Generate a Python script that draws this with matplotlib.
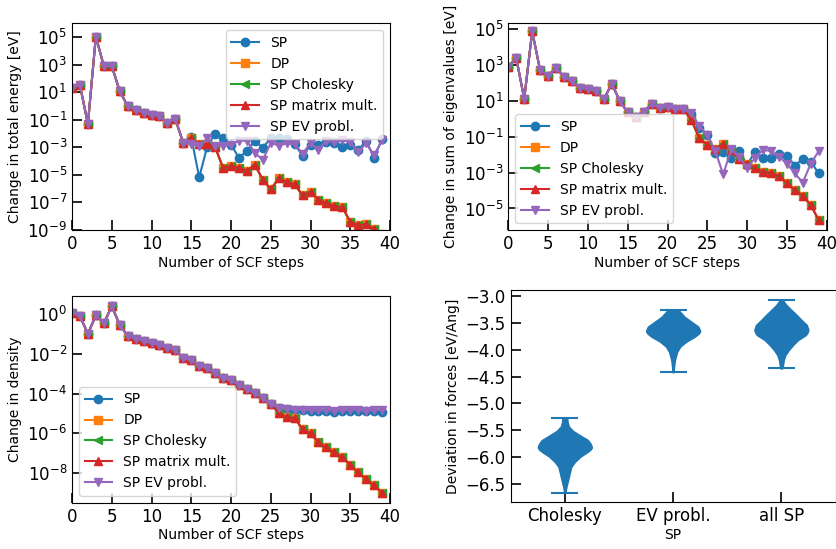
import matplotlib
matplotlib.use("Agg")
import matplotlib.pyplot as plt
from matplotlib.ticker import MultipleLocator, FixedLocator

# ---------------- data ----------------
steps = list(range(40))
series_labels = ["SP", "DP", "SP Cholesky", "SP matrix mult.", "SP EV probl."]
series_markers = ["o", "s", "<", "^", "v"]
series_colors = ["#1f77b4", "#ff7f0e", "#2ca02c", "#d62728", "#9467bd"]

# Change in total energy [eV]; steps 0-14 shared by all runs
energy_common = [21, 32, 0.05, 1.1e5, 800, 800, 12, 1.0, 0.5, 0.33, 0.24, 0.18,
                 0.06, 0.11, 0.002]
energy_dp_tail = [5.1e-3, 1.7e-3, 1.7e-3, 1.07e-3, 3.2e-5, 4.6e-5, 3.4e-5, 2.0e-5,
                  5.5e-5, 4.4e-6, 8.9e-7, 5.5e-6, 3.1e-6, 2.1e-6, 3.3e-7, 5.9e-7,
                  1.6e-7, 9.3e-8, 5.4e-8, 4.5e-8, 4.0e-9, 2.3e-9, 2.6e-9, 1.2e-9, 5e-10]
energy_sp_tail = [5.5e-3, 6.5e-6, 1.1e-3, 1.0e-2, 5.1e-3, 1.6e-3, 1.7e-4, 5.6e-4,
                  3.0e-3, 9.1e-4, 4.9e-3, 4.4e-3, 3.9e-3, 1.8e-3, 2.4e-4, 1.6e-3,
                  1.4e-3, 2.3e-3, 2.2e-3, 1.1e-3, 1.6e-3, 6.2e-4, 3.0e-3, 1.8e-4, 3.9e-3]
energy_ev_tail = [1.7e-3, 1.2e-3, 4.4e-3, 1.3e-3, 1.3e-3, 1.5e-3, 3.0e-3, 3.0e-3,
                  4.0e-4, 1.2e-4, 2.1e-3, 1.35e-3, 1.9e-3, 1.7e-3, 3.5e-4, 1.9e-3,
                  6.9e-4, 3.0e-3, 2.3e-3, 3.3e-3, 2.3e-3, 4.7e-4, 1.9e-3, 2.7e-4, 3.3e-3]
energy_yticks = [1e-9, 1e-7, 1e-5, 1e-3, 1e-1, 1e1, 1e3, 1e5]

# Change in sum of eigenvalues [eV]; steps 0-22 shared
eig_common = [810, 2400, 13, 7.4e4, 500, 250, 700, 210, 120, 55, 45, 37, 12, 90,
              10, 2.3, 1.3, 2.5, 6.7, 3.9, 4.8, 3.4, 3.5]
eig_dp_tail = [0.85, 0.081, 0.035, 0.022, 0.038, 0.018, 5.4e-3, 3.2e-3, 1.9e-3,
               1.1e-3, 1.0e-3, 6.6e-4, 2.5e-4, 1.05e-4, 5.0e-5, 1.55e-5, 2.2e-6]
eig_sp_tail = [1.8, 0.30, 0.126, 0.0117, 0.0132, 6.3e-3, 0.0158, 2.75e-3, 0.0145,
               6.5e-3, 6.8e-3, 0.0105, 8.9e-3, 2.45e-3, 5.8e-3, 4.1e-3, 8.9e-4]
eig_ev_tail = [2.0, 0.41, 0.126, 0.0158, 7.9e-4, 0.02, 7.6e-3, 1.9e-3, 6.5e-3,
               0.019, 0.0155, 7.6e-3, 3.2e-3, 8.9e-4, 2.8e-4, 3.2e-3, 0.0158]

# Change in density; steps 0-25 shared
dens_common = [1.2, 0.83, 0.105, 0.9, 0.35, 2.6, 0.3, 0.083, 0.059, 0.047, 0.035,
               0.028, 0.021, 0.0166, 6.3e-3, 5.2e-3, 2.6e-3, 2.0e-3, 1.05e-3, 6.0e-4,
               4.8e-4, 2.8e-4, 1.66e-4, 1.05e-4, 6.3e-5, 3.0e-5]
dens_dp_tail = [1.1e-5, 6.5e-6, 6.0e-6, 1.6e-6, 1.0e-6, 3.5e-7, 2.0e-7, 1.1e-7,
                6.3e-8, 2.6e-8, 1.07e-8, 5.0e-9, 2.4e-9, 1.0e-9]
dens_sp_tail = [2.0e-5, 1.7e-5, 1.5e-5, 1.45e-5, 1.4e-5, 1.3e-5, 1.35e-5, 1.25e-5,
                1.3e-5, 1.3e-5, 1.35e-5, 1.3e-5, 1.35e-5, 1.25e-5]
dens_ev_tail = [2.0e-5, 1.8e-5, 1.6e-5, 1.55e-5, 1.5e-5, 1.45e-5, 1.5e-5, 1.4e-5,
                1.45e-5, 1.6e-5, 1.55e-5, 1.35e-5, 1.5e-5, 1.55e-5]

# Violin profiles of force deviation [eV/Ang] (coordinate, relative density)
violin_labels = ["Cholesky", "EV probl.", "all SP"]
chol_coords = [-6.66, -6.55, -6.43, -6.30, -6.18, -6.09, -5.99, -5.90, -5.86, -5.82,
               -5.78, -5.74, -5.68, -5.59, -5.51, -5.43, -5.34, -5.27]
chol_density = [0.02, 0.06, 0.12, 0.18, 0.24, 0.37, 0.58, 0.85, 0.95, 1.0,
                0.98, 0.94, 0.85, 0.55, 0.30, 0.15, 0.10, 0.09]
ev_coords = [-4.42, -4.35, -4.22, -4.13, -4.04, -3.94, -3.85, -3.76, -3.70, -3.66,
             -3.62, -3.57, -3.48, -3.39, -3.29, -3.26]
ev_density = [0.02, 0.03, 0.06, 0.10, 0.15, 0.27, 0.49, 0.80, 0.95, 1.0,
              0.98, 0.93, 0.68, 0.43, 0.25, 0.18]
all_coords = [-4.35, -4.29, -4.19, -4.10, -4.01, -3.91, -3.82, -3.73, -3.68, -3.63,
              -3.54, -3.45, -3.35, -3.26, -3.17, -3.11, -3.07]
all_density = [0.03, 0.06, 0.09, 0.15, 0.27, 0.44, 0.62, 0.90, 0.97, 1.0,
               0.94, 0.75, 0.56, 0.37, 0.19, 0.10, 0.05]
violin_min = [-6.66, -4.42, -4.35]
violin_max = [-5.27, -3.26, -3.07]
violin_median = [-5.85, -3.70, -3.68]
violin_mean = [-5.88, -3.72, -3.69]

# ---------------- figure ----------------
W, H = 836, 549
fig = plt.figure(figsize=(W / 100, H / 100), dpi=100)


def add_axes(l, t, r, b):
    return fig.add_axes([l / W, 1 - b / H, (r - l) / W, (b - t) / H])


def style(ax):
    ax.tick_params(which="major", direction="in", length=7.5, width=1.2,
                   labelsize=12)
    ax.tick_params(which="minor", direction="in", length=4, width=1.0)


def scf_panel(ax, common, dp_tail, sp_tail, ev_tail, ylabel, ylim, loc):
    sp = common + sp_tail
    dp = common + dp_tail
    ev = common + ev_tail
    data = [sp, dp, dp, dp, ev]
    for y, lab, m, c in zip(data, series_labels, series_markers, series_colors):
        ax.plot(steps, y, marker=m, color=c, label=lab, markersize=6, linewidth=1.5)
    ax.set_yscale("log")
    ax.xaxis.set_major_locator(MultipleLocator(5))
    ax.set_xlim(0, 40)
    ax.set_ylim(*ylim)
    ax.set_xlabel("Number of SCF steps", fontsize=10, labelpad=2)
    ax.set_ylabel(ylabel, fontsize=10)
    ax.legend(loc=loc, fontsize=10)
    style(ax)


ax1 = add_axes(72, 23.3, 390, 230)
scf_panel(ax1, energy_common, energy_dp_tail, energy_sp_tail, energy_ev_tail,
          "Change in total energy [eV]", (1e-9, 1e6), "upper right")
ax1.yaxis.set_major_locator(FixedLocator(energy_yticks))
ax1.set_ylim(1e-9, 1e6)

ax2 = add_axes(508.3, 23.3, 826.7, 230)
scf_panel(ax2, eig_common, eig_dp_tail, eig_sp_tail, eig_ev_tail,
          "Change in sum of eigenvalues [eV]", (6.3e-7, 2.1e5), "lower left")

ax3 = add_axes(72, 296, 390, 502.7)
scf_panel(ax3, dens_common, dens_dp_tail, dens_sp_tail, dens_ev_tail,
          "Change in density", (3.2e-10, 8.5), "lower left")

ax4 = add_axes(510.7, 290, 835.5, 502.3)
profiles = [(chol_coords, chol_density), (ev_coords, ev_density),
            (all_coords, all_density)]
vpstats = []
for (cc, dd), mn, mx, md, me in zip(profiles, violin_min, violin_max,
                                    violin_median, violin_mean):
    vpstats.append({"coords": cc, "vals": dd, "min": mn, "max": mx,
                    "median": md, "mean": me})
parts = ax4.violin(vpstats, positions=[1, 2, 3], widths=0.5, showextrema=True)
for body in parts["bodies"]:
    body.set_facecolor("#1f77b4")
    body.set_edgecolor("#1f77b4")
    body.set_alpha(1.0)
for key in ("cmaxes", "cmins", "cbars"):
    parts[key].set_color("#1f77b4")
    parts[key].set_linewidth(1.5)
ax4.set_xticks([1, 2, 3])
ax4.set_xticklabels(violin_labels)
ax4.set_xlim(0.5, 3.5)
ax4.yaxis.set_major_locator(MultipleLocator(0.5))
ax4.set_ylim(-6.84, -2.89)
ax4.set_xlabel("SP", fontsize=10, labelpad=2)
ax4.set_ylabel("Deviation in forces [eV/Ang]", fontsize=10)
style(ax4)

fig.savefig("out.png", dpi=100)
